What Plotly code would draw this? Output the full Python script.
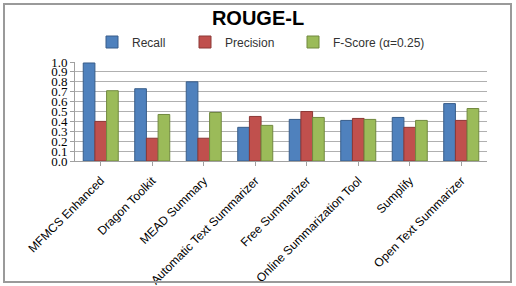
import plotly.graph_objects as go

categories = ["MFMCS Enhanced", "Dragon Toolkit", "MEAD Summary", "Automatic Text Summarizer",
              "Free Summarizer", "Online Summarization Tool", "Sumplify", "Open Text Summarizer"]
recall = [0.99, 0.73, 0.80, 0.34, 0.42, 0.41, 0.44, 0.58]
precision = [0.40, 0.23, 0.23, 0.45, 0.50, 0.43, 0.34, 0.41]
fscore = [0.71, 0.47, 0.49, 0.36, 0.44, 0.42, 0.41, 0.53]
series_names = ["Recall", "Precision", "F-Score (\u03b1=0.25)"]
y_ticks = [0.0, 0.1, 0.2, 0.3, 0.4, 0.5, 0.6, 0.7, 0.8, 0.9, 1.0]

colors = ["#4F81BD", "#C0504D", "#9BBB59"]
edges = ["#385D8A", "#8C3836", "#71893F"]
legend_ids = ["legend", "legend2", "legend3"]
legend_x = [92, 185, 293]

fig = go.Figure()
for name, vals, c, e, lg in zip(series_names, [recall, precision, fscore], colors, edges, legend_ids):
    fig.add_trace(go.Bar(x=categories, y=vals, name=name, legend=lg, showlegend=True,
                         marker=dict(color=c, line=dict(color=e, width=1))))

L, R, T, B = 75, 29, 62, 125
PW, PH = 516 - L - R, 286 - T - B

legend_common = dict(orientation="h", xanchor="left", y=(286 - 42) / 286, yanchor="middle",
                     yref="container", xref="container", visible=True,
                     font=dict(family="Liberation Sans", size=12, color="#333"),
                     itemwidth=30, bgcolor="rgba(0,0,0,0)")

fig.update_layout(
    width=516, height=286, showlegend=True,
    margin=dict(l=L, r=R, t=T, b=B, autoexpand=False),
    paper_bgcolor="white", plot_bgcolor="white",
    barmode="group", bargap=0.32, bargroupgap=0.0,
    title=dict(text="<b>ROUGE-L</b>", x=0.5, xanchor="center", y=1 - 18 / 286, yanchor="middle",
               yref="container", font=dict(family="Liberation Sans", size=20, color="black")),
    legend=dict(x=legend_x[0] / 516, **legend_common),
    legend2=dict(x=legend_x[1] / 516, **legend_common),
    legend3=dict(x=legend_x[2] / 516, **legend_common),
    font=dict(family="Liberation Sans", color="black"),
    shapes=[dict(type="rect", xref="paper", yref="paper", x0=-(L - 4) / PW, x1=1 + (R - 5) / PW,
                 y0=-(B - 4) / PH, y1=1 + (T - 4) / PH, line=dict(color="#9a9a9a", width=2))],
)
fig.update_yaxes(range=[0, 1.0], tickvals=y_ticks, ticktext=[f"{v:.1f}" for v in y_ticks],
                 showgrid=True, gridcolor="#b0b0b0", gridwidth=1, automargin=False,
                 showline=True, linecolor="#a0a0a0", ticks="outside", ticklen=4, tickcolor="#a0a0a0",
                 tickfont=dict(family="Liberation Serif", size=13, color="black"), zeroline=False)
fig.update_xaxes(tickangle=-45, showline=True, linecolor="#a0a0a0", ticks="outside", automargin=False,
                 ticklen=4, tickcolor="#a0a0a0", ticklabelstandoff=3,
                 tickfont=dict(family="Liberation Sans", size=12, color="black"))

fig.write_html("out.html")
